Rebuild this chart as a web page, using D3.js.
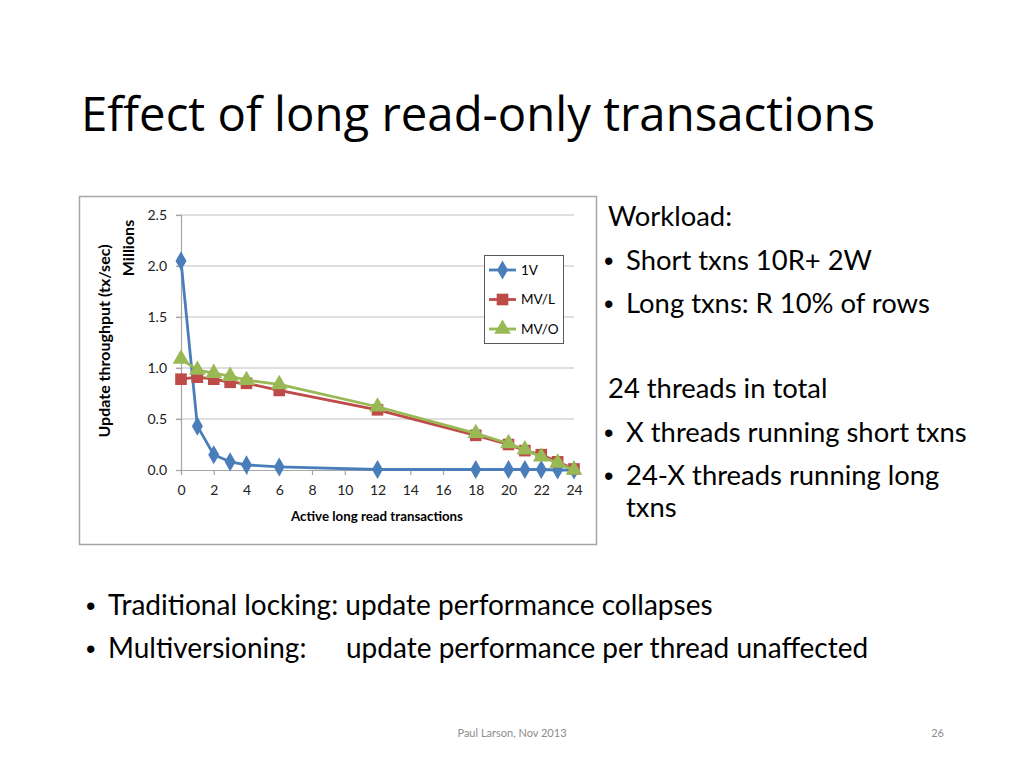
<!DOCTYPE html>
<html>
<head>
<meta charset="utf-8">
<script src="https://cdn.jsdelivr.net/npm/d3@7"></script>
<style>
  body { margin: 0; background: #fff; }
  svg { display: block; }
</style>
</head>
<body>
<div id="slide"></div>
<script>
// data
var readers = [0, 1, 2, 3, 4, 6, 12, 18, 20, 21, 22, 23, 24];
var v1 = [2.05, 0.43, 0.15, 0.08, 0.05, 0.03, 0.005, 0.005, 0.005, 0.005, 0.005, 0.0, 0.0];
var mvl = [0.89, 0.91, 0.89, 0.86, 0.85, 0.78, 0.59, 0.34, 0.25, 0.19, 0.15, 0.08, 0.01];
var mvo = [1.09, 0.98, 0.95, 0.92, 0.88, 0.84, 0.62, 0.36, 0.26, 0.20, 0.13, 0.07, 0.0];
var seriesNames = ["1V", "MV/L", "MV/O"];
var xTicks = [0, 2, 4, 6, 8, 10, 12, 14, 16, 18, 20, 22, 24];
var yTicks = [0, 0.5, 1.0, 1.5, 2.0, 2.5];

var rightLines = [
  { text: "Workload:", bullet: false, y: 226 },
  { text: "Short txns 10R+ 2W", bullet: true, y: 270 },
  { text: "Long txns: R 10% of rows", bullet: true, y: 313 },
  { text: "24 threads in total", bullet: false, y: 398 },
  { text: "X threads running short txns", bullet: true, y: 442 },
  { text: "24-X threads running long", bullet: true, y: 485 },
  { text: "txns", bullet: false, y: 517, indent: true }
];

var W = 1024, H = 768;
var svg = d3.select("#slide").append("svg")
    .attr("width", W)
    .attr("height", H);

var bodyFont = "Lato, 'Liberation Sans', sans-serif";
var bulletFont = "'Liberation Sans', Arial, sans-serif";

// slide title
svg.append("text")
    .attr("x", 81)
    .attr("y", 131)
    .attr("font-family", "'Open Sans', 'Noto Sans', sans-serif")
    .attr("font-size", 47.3)
    .attr("fill", "#000")
    .text("Effect of long read-only transactions");

// chart frame
svg.append("rect")
    .attr("x", 79.5).attr("y", 196.5)
    .attr("width", 517).attr("height", 348)
    .attr("fill", "#fff")
    .attr("stroke", "#a6a6a6")
    .attr("stroke-width", 1.5);

var x = d3.scaleLinear().domain([0, 24]).range([181, 574]);
var y = d3.scaleLinear().domain([0, 2.5]).range([470, 215]);

var chart = svg.append("g");

// gridlines
chart.selectAll(".grid")
    .data(yTicks.filter(function (d) { return d > 0; }))
    .enter().append("line")
    .attr("x1", x(0) - 5).attr("x2", x(24))
    .attr("y1", function (d) { return y(d); })
    .attr("y2", function (d) { return y(d); })
    .attr("stroke", "#bfbfbf")
    .attr("stroke-width", 1.2);

// axes
var yAxis = chart.append("g")
    .attr("transform", "translate(" + x(0) + ",0)")
    .call(d3.axisLeft(y).tickValues(yTicks).tickFormat(d3.format(".1f")).tickSize(5).tickPadding(9));
var xAxis = chart.append("g")
    .attr("transform", "translate(0," + y(0) + ")")
    .call(d3.axisBottom(x).tickValues(xTicks).tickSize(5).tickPadding(10));

[xAxis, yAxis].forEach(function (a) {
    a.selectAll("path, line").attr("stroke", "#a6a6a6").attr("stroke-width", 1.2);
    a.selectAll("text")
        .attr("font-family", bodyFont)
        .attr("font-size", 14)
        .attr("fill", "#222");
});

// axis titles
svg.append("text")
    .attr("transform", "translate(110,341) rotate(-90)")
    .attr("text-anchor", "middle")
    .attr("font-family", bodyFont)
    .attr("font-weight", "bold")
    .attr("font-size", 16)
    .text("Update throughput (tx/sec)");
svg.append("text")
    .attr("transform", "translate(134,248) rotate(-90)")
    .attr("text-anchor", "middle")
    .attr("font-family", bodyFont)
    .attr("font-weight", "bold")
    .attr("font-size", 16)
    .text("Millions");
svg.append("text")
    .attr("x", 377).attr("y", 521)
    .attr("text-anchor", "middle")
    .attr("font-family", bodyFont)
    .attr("font-weight", "bold")
    .attr("font-size", 13.3)
    .text("Active long read transactions");

// series
var series = [
    { name: seriesNames[0], values: v1, color: "#4a7ebb", marker: d3.symbolDiamond, size: 105 },
    { name: seriesNames[1], values: mvl, color: "#be4b48", marker: d3.symbolSquare, size: 135 },
    { name: seriesNames[2], values: mvo, color: "#98b954", marker: d3.symbolTriangle, size: 120 }
];

var line = d3.line()
    .x(function (d) { return x(d[0]); })
    .y(function (d) { return y(d[1]); });

series.forEach(function (s) {
    var pts = readers.map(function (r, i) { return [r, s.values[i]]; });
    chart.append("path")
        .datum(pts)
        .attr("fill", "none")
        .attr("stroke", s.color)
        .attr("stroke-width", 2.8)
        .attr("stroke-linejoin", "round")
        .attr("d", line);
    chart.selectAll(null)
        .data(pts)
        .enter().append("path")
        .attr("transform", function (d) { return "translate(" + x(d[0]) + "," + y(d[1]) + ")"; })
        .attr("d", d3.symbol().type(s.marker).size(s.size))
        .attr("fill", s.color);
});

// legend
var legend = svg.append("g").attr("transform", "translate(484,255)");
legend.append("rect")
    .attr("x", 0.5).attr("y", 0.5)
    .attr("width", 79).attr("height", 88)
    .attr("fill", "#fff")
    .attr("stroke", "#595959")
    .attr("stroke-width", 1);
series.forEach(function (s, i) {
    var ly = 15 + i * 29.5;
    legend.append("line")
        .attr("x1", 5).attr("x2", 32)
        .attr("y1", ly).attr("y2", ly)
        .attr("stroke", s.color)
        .attr("stroke-width", 2.8);
    legend.append("path")
        .attr("transform", "translate(18.5," + ly + ")")
        .attr("d", d3.symbol().type(s.marker).size(s.size))
        .attr("fill", s.color);
    legend.append("text")
        .attr("x", 37).attr("y", ly + 4.5)
        .attr("font-family", bodyFont)
        .attr("font-size", 13.5)
        .text(s.name);
});

// right side text
var right = svg.append("g")
    .attr("font-family", bodyFont)
    .attr("font-size", 27.4)
    .attr("fill", "#000");
rightLines.forEach(function (l) {
    if (l.bullet) {
        right.append("text")
            .attr("x", 604).attr("y", l.y)
            .attr("font-family", bulletFont)
            .attr("font-size", 27)
            .text("\u2022");
    }
    right.append("text")
        .attr("x", (l.bullet || l.indent) ? 626 : 608)
        .attr("y", l.y)
        .text(l.text);
});

// bottom bullets
var bottom = svg.append("g")
    .attr("font-family", bodyFont)
    .attr("font-size", 28)
    .attr("fill", "#000");
[615, 658].forEach(function (by) {
    bottom.append("text")
        .attr("x", 86).attr("y", by)
        .attr("font-family", bulletFont)
        .attr("font-size", 27)
        .text("\u2022");
});
bottom.append("text").attr("x", 108).attr("y", 615).text("Traditional locking: update performance collapses");
bottom.append("text").attr("x", 108).attr("y", 658).text("Multiversioning:");
bottom.append("text").attr("x", 346).attr("y", 658).text("update performance per thread unaffected");

// footer
svg.append("text")
    .attr("x", 512).attr("y", 737)
    .attr("text-anchor", "middle")
    .attr("font-family", bodyFont)
    .attr("font-size", 11)
    .attr("fill", "#8c8c8c")
    .text("Paul Larson, Nov 2013");
svg.append("text")
    .attr("x", 944).attr("y", 737)
    .attr("text-anchor", "end")
    .attr("font-family", bodyFont)
    .attr("font-size", 11)
    .attr("fill", "#8c8c8c")
    .text("26");
</script>
</body>
</html>
